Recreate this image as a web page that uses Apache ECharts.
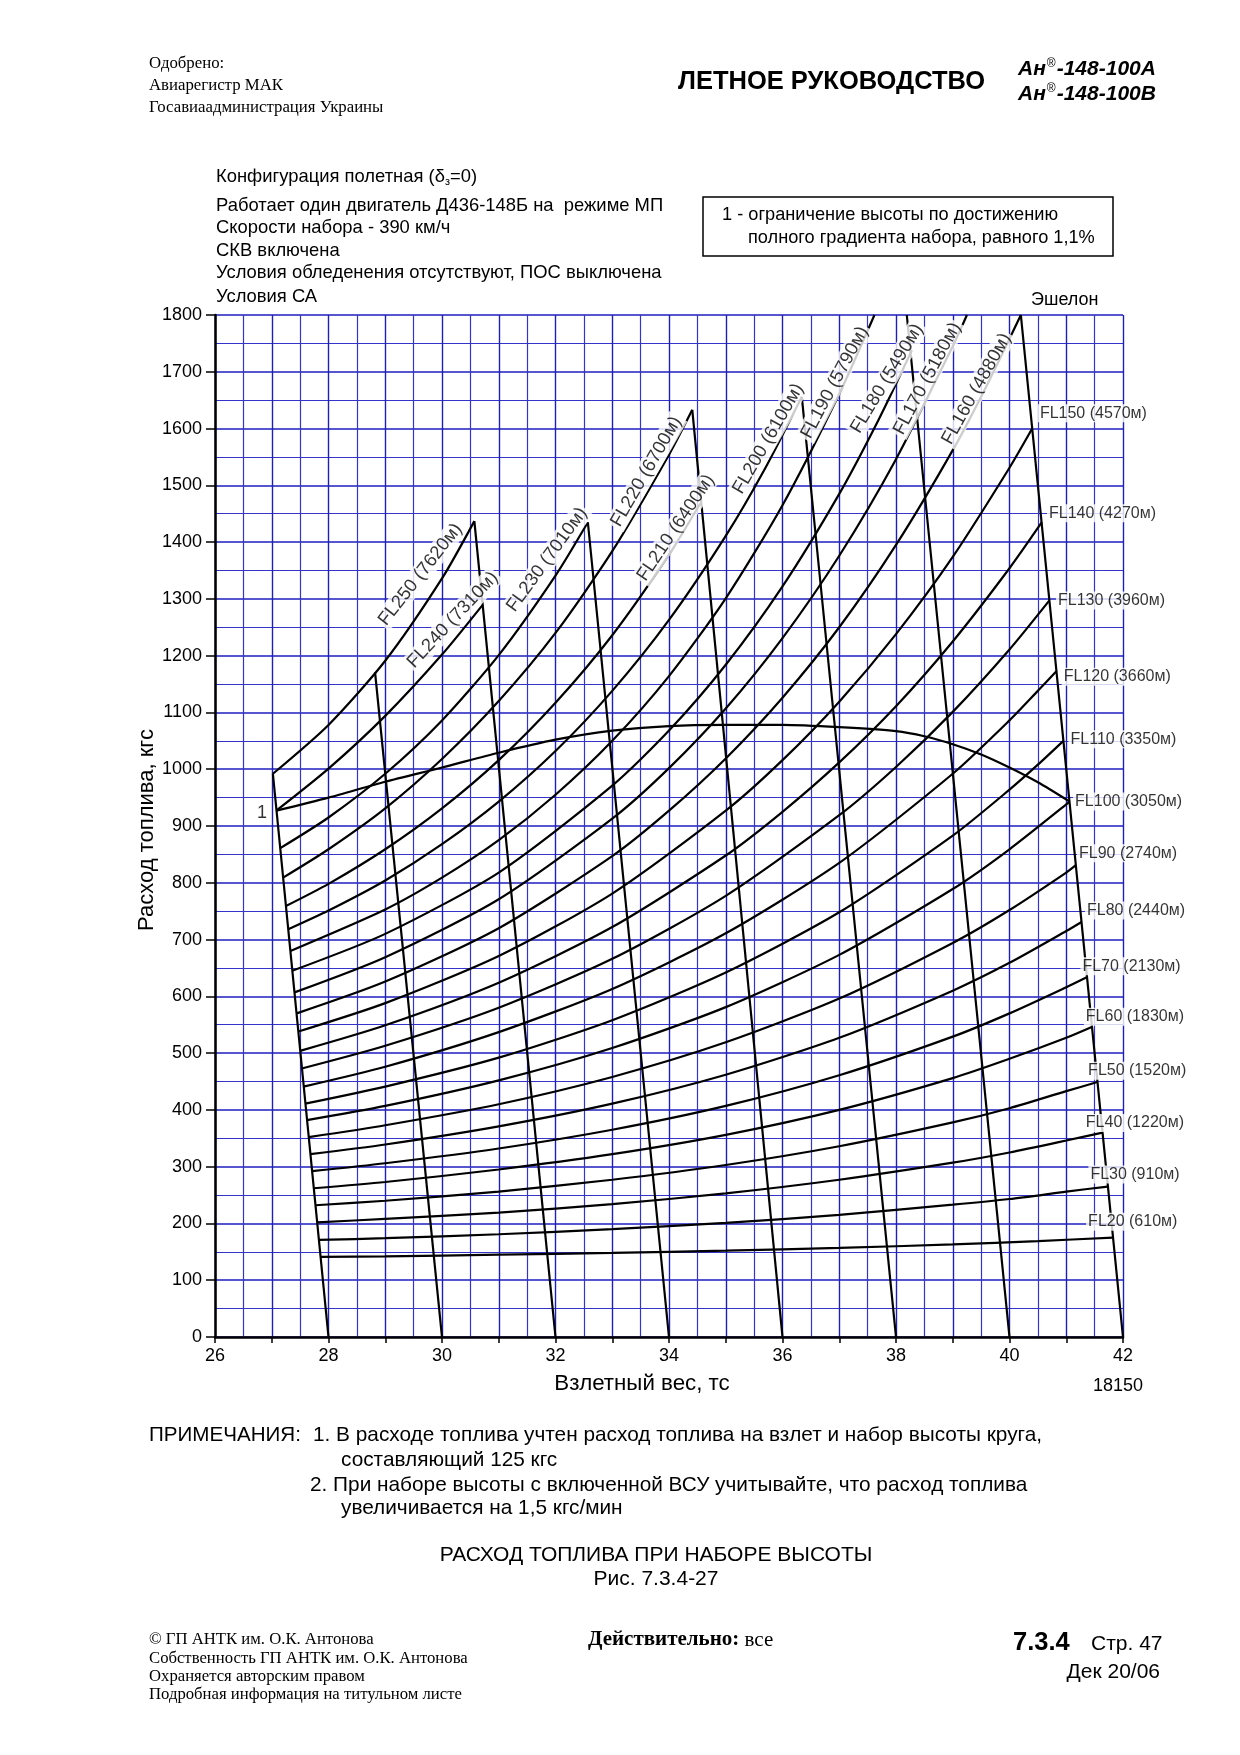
<!DOCTYPE html>
<html><head><meta charset="utf-8">
<script src="https://cdn.jsdelivr.net/npm/echarts/dist/echarts.min.js"></script>
<style>html,body{margin:0;padding:0;background:#fff}#c{width:1240px;height:1755px}</style>
</head><body><div id="c"></div>
<script>
// ---------- DATA ----------
const xEvenLabels = [26, 28, 30, 32, 34, 36, 38, 40, 42];
const yTickLabels = [0,100,200,300,400,500,600,700,800,900,1000,1100,1200,1300,1400,1500,1600,1700,1800];

const fl20 = [[27.86,141],[29,142],[31,145],[33,148],[35,152],[37,157],[39,163],[40.5,169],[41.82,175]];
const fl30 = [[27.83,171],[29,174],[31,181],[33,190],[35,201],[37,215],[39,233],[40,243],[41,256],[41.73,265]];
const fl40 = [[27.80,202],[29,208],[31,219],[33,234],[35,253],[37,277],[39,307],[40,325],[41,346],[41.64,360]];
const fl50 = [[27.77,232],[29,240],[31,256],[33,277],[35,303],[37,336],[39,378],[40,403],[41,433],[41.55,449]];
const fl60 = [[27.74,262],[29,273],[31,295],[33,322],[35,356],[37,400],[39,456],[40,490],[41,527],[41.45,546]];
const fl70 = [[27.71,292],[29,306],[31,332],[33,365],[35,407],[37,461],[39,529],[40,570],[41,616],[41.37,634]];
const fl80 = [[27.68,322],[29,339],[31,371],[33,411],[35,462],[37,527],[39,610],[40,659],[41,715],[41.27,731]];
const fl90 = [[27.65,352],[29,373],[31,410],[33,458],[35,519],[37,596],[39,694],[40,752],[41,818],[41.17,831]];
const fl100 = [[27.62,382],[29,407],[31,452],[33,509],[35,581],[37,673],[39,789],[40,859],[41,938],[41.06,943]];
const fl110 = [[27.59,411],[29,441],[31,492],[33,558],[35,642],[37,748],[39,883],[40,964],[40.5,1008],[40.95,1050]];
const fl120 = [[27.56,441],[29,476],[31,537],[33,613],[35,711],[37,835],[39,992],[40,1086],[40.5,1138],[40.83,1173]];
const fl130 = [[27.53,473],[29,513],[31,580],[33,666],[35,777],[37,919],[38,1004],[39,1101],[40,1211],[40.70,1297]];
const fl140 = [[27.50,504],[29,549],[31,624],[33,722],[35,848],[36,925],[37,1012],[38,1111],[39,1225],[40,1354],[40.57,1435]];
const fl150 = [[27.47,538],[29,588],[31,671],[33,781],[35,927],[36,1016],[37,1119],[38,1238],[39,1374],[40,1531],[40.40,1600]];
const fl160 = [[27.44,570],[29,626],[31,720],[33,847],[34,927],[35,1019],[36,1126],[37,1250],[38,1395],[39,1562],[39.6,1676],[40.20,1800]];
const fl170 = [[27.40,607],[29,669],[31,771],[33,913],[34,1002],[35,1107],[36,1231],[37,1376],[38,1546],[39,1745],[39.25,1800]];
const fl180 = [[27.36,645],[29,710],[31,818],[33,971],[34,1068],[35,1184],[36,1322],[37,1485],[37.7,1617],[38.28,1738]];
const fl190 = [[27.33,680],[29,753],[30,809],[31,875],[32,955],[33,1050],[34,1164],[35,1301],[36,1465],[37,1661],[37.62,1800]];
const fl200 = [[27.29,718],[28,751],[29,804],[30,868],[31,943],[32,1032],[33,1138],[34,1263],[35,1411],[35.7,1531],[36.34,1656]];
const fl210 = [[27.25,759],[28,798],[29,859],[30,931],[31,1016],[32,1117],[33,1236],[34,1378],[34.55,1468]];
const fl220 = [[27.20,809],[28,859],[29,931],[30,1018],[31,1120],[32,1240],[33,1384],[34,1554],[34.41,1633]];
const fl230 = [[27.15,861],[28,915],[29,992],[30,1086],[31,1201],[32,1341],[32.57,1435]];
const fl240 = [[27.08,927],[28,1001],[29,1094],[30,1202],[30.72,1290]];
const fl250 = [[27.02,992],[28,1078],[29,1191],[30,1336],[30.57,1437]];

// limit line "1" (full climb gradient 1.1%)
const limitCurve = [[27.08,927],[28,950],[29,978],[30,1003],[31,1029],[32,1052],[33,1068],[34,1076],[35,1078],[36,1078],[37,1074],[38,1067],[38.5,1058],[39,1044],[39.5,1026],[40,1003],[40.5,977],[41.06,943]];

// guide lines (takeoff weight reference lines)
const guide28 = [[28,0],[27.02,992]];
const guide30 = [[30,0],[28.82,1171]];
const guide32 = [[32,0],[30.57,1437]];
const guide34 = [[34,0],[32.57,1435]];
const guide36 = [[36,0],[34.41,1633]];
const guide38 = [[38,0],[36.34,1656]];
const guide40 = [[40,0],[38.19,1800]];
const guide42 = [[42,0],[40.20,1800]];

// curve labels
const slantLabelTexts = ['FL250 (7620м)','FL240 (7310м)','FL230 (7010м)','FL220 (6700м)','FL210 (6400м)','FL200 (6100м)','FL190 (5790м)','FL180 (5490м)','FL170 (5180м)','FL160 (4880м)'];
const rightLabelTexts = ['FL150 (4570м)','FL140 (4270м)','FL130 (3960м)','FL120 (3660м)','FL110 (3350м)','FL100 (3050м)','FL90 (2740м)','FL80 (2440м)','FL70 (2130м)','FL60 (1830м)','FL50 (1520м)','FL40 (1220м)','FL30 (910м)','FL20 (610м)'];

// ---------- LAYOUT (positions / styles) ----------
const slantLabelAnchors = [[29.62,1343],[30.19,1263],[31.85,1369],[33.60,1524],[34.12,1425],[35.75,1582],[36.92,1681],[37.84,1688],[38.55,1688],[39.42,1670]];
const slantLabelAngles = [52,47,54,60,56,60,62,59,62,61];
const rightLabelAnchors = [[40.50,1627],[40.66,1451],[40.82,1297],[40.92,1163],[41.04,1053],[41.12,943],[41.19,852],[41.33,751],[41.25,653],[41.31,564],[41.35,469],[41.31,377],[41.39,286],[41.35,203]];
const limitLabelAnchor = [26.83,923];

const SANS = '"Liberation Sans", Arial, sans-serif';
const SERIF = '"Liberation Serif", "Times New Roman", serif';
const BLUE = '#1e1ebe';
const BLUE_MINOR = '#3434cc';

const flCurves = [fl20,fl30,fl40,fl50,fl60,fl70,fl80,fl90,fl100,fl110,fl120,fl130,fl140,fl150,fl160,fl170,fl180,fl190,fl200,fl210,fl220,fl230,fl240,fl250];
const flNames = ['FL20','FL30','FL40','FL50','FL60','FL70','FL80','FL90','FL100','FL110','FL120','FL130','FL140','FL150','FL160','FL170','FL180','FL190','FL200','FL210','FL220','FL230','FL240','FL250'];
const guides = [guide28,guide30,guide32,guide34,guide36,guide38,guide40,guide42];

const lineBase = {type:'line', showSymbol:false, symbol:'none', silent:true, clip:true, z:3,
  lineStyle:{color:'#000', width:2.2}, emphasis:{disabled:true}};

const series = [];
flCurves.forEach((d,i)=>series.push(Object.assign({}, lineBase, {name:flNames[i], data:d, smooth:0.25})));
series.push(Object.assign({}, lineBase, {name:'limit1', data:limitCurve, smooth:0.25}));
guides.forEach((d,i)=>series.push(Object.assign({}, lineBase, {name:'guide'+i, data:d, smooth:false})));

const labelFont = {fontFamily:SANS, color:'#000', backgroundColor:'#fff', padding:[1,2], textBorderWidth:0, textBorderColor:'transparent', textShadowBlur:0};
const labelData = [];
slantLabelTexts.forEach((t,i)=>labelData.push({value:slantLabelAnchors[i], label:Object.assign({show:true, formatter:t, rotate:slantLabelAngles[i], position:'inside', align:'center', verticalAlign:'middle', fontSize:18.5}, labelFont)}));
rightLabelTexts.forEach((t,i)=>labelData.push({value:rightLabelAnchors[i], label:Object.assign({show:true, formatter:t, position:'inside', align:'left', verticalAlign:'middle', fontSize:16}, labelFont)}));
labelData.push({value:limitLabelAnchor, label:{show:true, formatter:'1', position:'inside', align:'center', verticalAlign:'middle', fontSize:18, fontFamily:SANS, color:'#000', textBorderWidth:0}});
series.push({type:'scatter', data:labelData, symbolSize:1, itemStyle:{color:'rgba(0,0,0,0)'}, silent:true, z:6, clip:false});

function txt(x,y,text,size,opts){
  opts = opts||{};
  return {type:'text', x:x, y:y, rotation:opts.rotation||0, z:10,
    style:Object.assign({text:text, fill:'#000', fontSize:size, fontFamily:opts.family||SANS,
      fontWeight:opts.weight||'normal', fontStyle:opts.style||'normal',
      textAlign:opts.align||'left', align:opts.align||'left',
      textVerticalAlign:'middle', verticalAlign:'middle'}, opts.rich?{rich:opts.rich}:{})};
}

const supRich = {s:{fontSize:12,fontWeight:'normal',fontStyle:'normal',padding:[0,1,10,1],fontFamily:SANS}};
const graphics = [
  txt(149,64,'Одобрено:',16.8,{family:SERIF}),
  txt(149,86,'Авиарегистр МАК',16.8,{family:SERIF}),
  txt(149,108,'Госавиаадминистрация Украины',16.8,{family:SERIF}),
  txt(678,82,'ЛЕТНОЕ РУКОВОДСТВО',25.5,{weight:'bold'}),
  txt(1018,69,'Ан{s|®}-148-100А',21,{weight:'bold',style:'italic',rich:supRich}),
  txt(1018,94,'Ан{s|®}-148-100В',21,{weight:'bold',style:'italic',rich:supRich}),
  txt(216,177,'Конфигурация полетная (δ{s|з}=0)',18.4,{rich:{s:{fontSize:11,padding:[10,0,0,0],fontFamily:SANS}}}),
  txt(216,206,'Работает один двигатель Д436-148Б на  режиме МП',18.4),
  txt(216,228,'Скорости набора - 390 км/ч',18.4),
  txt(216,251,'СКВ включена',18.4),
  txt(216,273,'Условия обледенения отсутствуют, ПОС выключена',18.4),
  txt(216,297,'Условия СА',18.4),
  {type:'rect', shape:{x:703,y:197,width:410,height:59}, style:{fill:'#fff',stroke:'#000',lineWidth:1.5}, z:9},
  txt(722,215,'1 - ограничение высоты по достижению',18.2),
  txt(748,238,'полного градиента набора, равного 1,1%',18.2),
  txt(1031,300,'Эшелон',18),
  txt(147,830,'Расход топлива, кгс',22,{align:'center',rotation:Math.PI/2}),
  txt(642,1384,'Взлетный вес, тс',22.3,{align:'center'}),
  txt(1118,1386,'18150',18,{align:'center'}),
  txt(149,1435,'ПРИМЕЧАНИЯ:',20.6),
  txt(313,1435,'1. В расходе топлива учтен расход топлива на взлет и набор высоты круга,',20.8),
  txt(341,1460,'составляющий 125 кгс',20.8),
  txt(310,1485,'2. При наборе высоты с включенной ВСУ учитывайте, что расход топлива',20.8),
  txt(341,1508,'увеличивается на 1,5 кгс/мин',20.8),
  txt(656,1555,'РАСХОД ТОПЛИВА ПРИ НАБОРЕ ВЫСОТЫ',21,{align:'center'}),
  txt(656,1579,'Рис. 7.3.4-27',21,{align:'center'}),
  txt(149,1640,'© ГП АНТК им. О.К. Антонова',16.7,{family:SERIF}),
  txt(149,1659,'Собственность ГП АНТК им. О.К. Антонова',16.7,{family:SERIF}),
  txt(149,1677,'Охраняется авторским правом',16.7,{family:SERIF}),
  txt(149,1695,'Подробная информация на титульном листе',16.7,{family:SERIF}),
  txt(588,1640,'{b|Действительно:} все',21,{family:SERIF,rich:{b:{fontWeight:'bold',fontSize:21,fontFamily:SERIF}}}),
  txt(1013,1643,'7.3.4',25.5,{weight:'bold'}),
  txt(1091,1644,'Стр. 47',21),
  txt(1160,1672,'Дек 20/06',21,{align:'right'})
];

const chart = echarts.init(document.getElementById('c'), null, {renderer:'canvas'});
chart.setOption({
  backgroundColor:'#fff',
  animation:false,
  grid:{left:215, top:315, width:908, height:1022, containLabel:false},
  xAxis:{type:'value', min:26, max:42, interval:1,
    axisLine:{show:true, onZero:false, lineStyle:{color:'#000', width:2.5}},
    axisTick:{show:true, length:6, lineStyle:{color:'#000', width:1.5}},
    axisLabel:{fontSize:18, color:'#000', margin:10, fontFamily:SANS,
      formatter:v=> xEvenLabels.indexOf(v)>=0 ? String(v) : ''},
    splitLine:{show:true, lineStyle:{color:BLUE, width:1.4}},
    minorTick:{show:true, splitNumber:2, length:0},
    minorSplitLine:{show:true, lineStyle:{color:BLUE_MINOR, width:1.2}}},
  yAxis:{type:'value', min:0, max:1800, interval:100,
    axisLine:{show:true, onZero:false, lineStyle:{color:'#000', width:2.5}},
    axisTick:{show:true, length:9, lineStyle:{color:'#000', width:1.5}},
    axisLabel:{fontSize:18, color:'#000', margin:13, fontFamily:SANS,
      formatter:v=> yTickLabels.indexOf(v)>=0 ? String(v) : ''},
    splitLine:{show:true, lineStyle:{color:BLUE, width:1.7}},
    minorTick:{show:true, splitNumber:2, length:0},
    minorSplitLine:{show:true, lineStyle:{color:BLUE_MINOR, width:1.1}}},
  series:series,
  graphic:graphics
});
</script></body></html>
